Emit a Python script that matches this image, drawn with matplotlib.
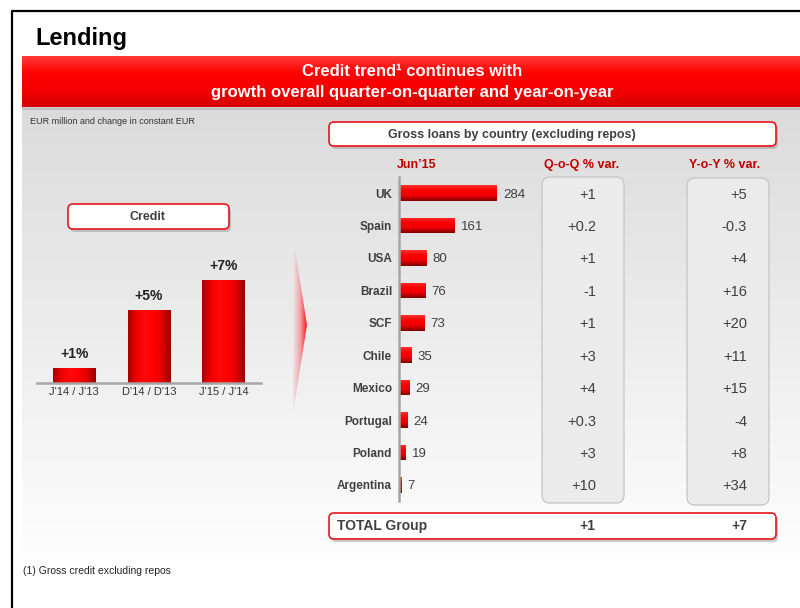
"""Lending slide: credit growth and gross loans by country"""
import numpy as np
import matplotlib.pyplot as plt
import matplotlib.transforms as mtransforms
from matplotlib.patches import FancyBboxPatch, Polygon, Rectangle
from matplotlib.colors import LinearSegmentedColormap

plt.rcParams['font.family'] = ['Liberation Sans', 'DejaVu Sans']

# left chart: credit growth
PERIODS = ["J'14 / J'13", "D'14 / D'13", "J'15 / J'14"]
CREDIT_GROWTH = [1, 5, 7]

# right chart: gross loans by country (Jun'15) and % variations
COUNTRIES = ['UK', 'Spain', 'USA', 'Brazil', 'SCF', 'Chile', 'Mexico', 'Portugal', 'Poland', 'Argentina']
LOANS_JUN15 = [284, 161, 80, 76, 73, 35, 29, 24, 19, 7]
QOQ_VAR = ['+1', '+0.2', '+1', '-1', '+1', '+3', '+4', '+0.3', '+3', '+10']
YOY_VAR = ['+5', '-0.3', '+4', '+16', '+20', '+11', '+15', '-4', '+8', '+34']
TOTAL_QOQ = '+1'
TOTAL_YOY = '+7'

TXT = '#404040'
RED_EDGE = '#E8141B'
W, H = 800, 608

fig = plt.figure(figsize=(8, 6.08), dpi=100)
bg = fig.add_axes([0, 0, 1, 1], zorder=0)
bg.axis('off')


def px_axes(x0, y0, x1, y1):
    # axes placed with pixel coords (top-left origin)
    ax = fig.add_axes([x0 / W, 1 - y1 / H, (x1 - x0) / W, (y1 - y0) / H], zorder=2)
    ax.patch.set_visible(False)
    return ax


def card(x0, y0, x1, y1, face='white', edge=RED_EDGE, rs=5, shadow=True, lw=1.2):
    if shadow:
        bg.add_patch(FancyBboxPatch((x0 + 2, y0 + 3), x1 - x0, y1 - y0,
                                    boxstyle=f'round,pad=0,rounding_size={rs}',
                                    fc='#8c8c8c', ec='none', alpha=0.45, zorder=2))
    bg.add_patch(FancyBboxPatch((x0, y0), x1 - x0, y1 - y0,
                                boxstyle=f'round,pad=0,rounding_size={rs}',
                                fc=face, ec=edge, lw=lw, zorder=3))


def shade_bars(ax, bars, stops, horizontal):
    cmap = LinearSegmentedColormap.from_list('shade', stops)
    grad = np.linspace(0, 1, 64)
    for b in bars:
        x0, y0, w, h = b.get_x(), b.get_y(), b.get_width(), b.get_height()
        if horizontal:
            img, extent = grad.reshape(-1, 1), (x0, x0 + w, y0 + h, y0)
        else:
            img, extent = grad.reshape(1, -1), (x0, x0 + w, y0, y0 + h)
        im = ax.imshow(img, cmap=cmap, extent=extent, aspect='auto', origin='upper',
                       zorder=b.get_zorder() + 0.1)
        im.set_clip_path(b)


# ---- slide background ----
shade = np.linspace(0.86, 0.995, 256).reshape(-1, 1)
bg.imshow(np.dstack([shade] * 3), extent=(22, 800, 560, 108), aspect='auto', origin='upper', zorder=0)
bg.plot([12, 12, 800], [608, 11, 11], color='black', lw=1.6, zorder=5)

# red banner
bg.add_patch(Rectangle((22, 58), 778, 52, fc='#a0a0a0', ec='none', alpha=0.5, zorder=1))
red = LinearSegmentedColormap.from_list('banner', ['#ff3a3a', '#ff0000', '#f50000', '#d40000'])
bg.imshow(np.linspace(0, 1, 64).reshape(-1, 1), cmap=red, extent=(22, 800, 107, 56),
          aspect='auto', origin='upper', zorder=2)
bg.text(412, 72, 'Credit trend\u00b9 continues with', color='white', fontsize=12,
        fontweight='bold', ha='center', va='center', zorder=4)
bg.text(412, 92, 'growth overall quarter-on-quarter and year-on-year', color='white', fontsize=12,
        fontweight='bold', ha='center', va='center', zorder=4)

bg.text(35, 39, 'Lending', fontsize=17, fontweight='bold', color='black', ha='left', va='center')
bg.text(30, 121, 'EUR million and change in constant EUR', fontsize=6.5, color='#333333',
        ha='left', va='center')
bg.text(23, 571, '(1) Gross credit excluding repos', fontsize=7.5, color='#222222',
        ha='left', va='center')

# ---- left: credit growth ----
card(68, 204, 229, 229)
bg.text(148, 217, 'Credit', fontsize=9, fontweight='bold', color=TXT, ha='center', va='center', zorder=4)

ax1 = px_axes(37, 383 - 147, 261, 383)
bars1 = ax1.bar(range(len(PERIODS)), CREDIT_GROWTH, width=0.57, color='#e00000', zorder=2)
shade_bars(ax1, bars1, ['#a80000', '#f20000', '#ff0a0a', '#ff0000', '#e00000', '#9a0000'],
           horizontal=False)
for i, v in enumerate(CREDIT_GROWTH):
    ax1.text(i, v + 0.95, f'+{v}%', ha='center', va='center', fontsize=10,
             fontweight='bold', color='#222222')
ax1.set_xlim(-0.5, 2.5)
ax1.set_ylim(0, 10)
ax1.set_xticks(range(len(PERIODS)))
ax1.set_xticklabels(PERIODS, fontsize=8, color='#333333')
ax1.tick_params(axis='x', length=0, pad=3)
ax1.set_yticks([])
for s in ['top', 'left', 'right']:
    ax1.spines[s].set_visible(False)
ax1.spines['bottom'].set_color('#a6a6a6')
ax1.spines['bottom'].set_linewidth(1.8)

# arrow chevron
chev = Polygon([(293, 237), (307, 325), (293, 413)], closed=True, fc='none', ec='none')
bg.add_patch(chev)
arrow_cmap = LinearSegmentedColormap.from_list('arrow', ['#ece6e8', '#f0a0a8', '#ff0000'])
im = bg.imshow(np.linspace(0, 1, 64).reshape(1, -1), cmap=arrow_cmap, extent=(293, 308, 413, 237),
               aspect='auto', origin='upper', zorder=2)
im.set_clip_path(chev)

# ---- right: gross loans by country ----
card(329, 122, 776, 146)
bg.text(512, 135, 'Gross loans by country (excluding repos)', fontsize=9, fontweight='bold',
        color=TXT, ha='center', va='center', zorder=4)

hdr = '#c00000'
bg.text(417, 165, 'Jun\u201915', fontsize=9, fontweight='bold', color=hdr, ha='center', va='center')
bg.text(582, 165, 'Q-o-Q % var.', fontsize=9, fontweight='bold', color=hdr, ha='center', va='center')
bg.text(725, 165, 'Y-o-Y % var.', fontsize=9, fontweight='bold', color=hdr, ha='center', va='center')

card(542, 177, 624, 503, face='#ebebeb', edge='#c8c8c8', rs=8, shadow=False, lw=1)
card(687, 178, 769, 505, face='#ebebeb', edge='#c8c8c8', rs=8, shadow=False, lw=1)

scale = 0.345  # px per unit
ax2 = px_axes(399, 176.8, 540, 501.2)
rows = np.arange(len(COUNTRIES))
bars2 = ax2.barh(rows, LOANS_JUN15, height=0.48, color='#e00000', zorder=2)
shade_bars(ax2, bars2, ['#ff3030', '#ff0000', '#ec0000', '#800000'], horizontal=True)
for i, v in enumerate(LOANS_JUN15):
    ax2.text(v + 6 / scale, i, str(v), va='center_baseline', ha='left', fontsize=9.5, color=TXT)
ax2.set_xlim(0, 141 / scale)
ax2.set_ylim(len(COUNTRIES) - 0.5, -0.5)
ax2.set_yticks(rows)
ax2.set_yticklabels(COUNTRIES, fontsize=8.5, fontweight='bold', color=TXT)
ax2.tick_params(axis='y', length=0, pad=5)
ax2.set_xticks([])
for s in ['top', 'bottom', 'right']:
    ax2.spines[s].set_visible(False)
ax2.spines['left'].set_color('#a6a6a6')
ax2.spines['left'].set_linewidth(1.8)

trans = mtransforms.blended_transform_factory(bg.transData, ax2.transData)
for i, (q, y) in enumerate(zip(QOQ_VAR, YOY_VAR)):
    ax2.text(596, i, q, transform=trans, ha='right', va='center_baseline', fontsize=10.5, color=TXT)
    ax2.text(747, i, y, transform=trans, ha='right', va='center_baseline', fontsize=10.5, color=TXT)

# total row
card(329, 513, 776, 539)
bg.text(337, 526, 'TOTAL Group', fontsize=10, fontweight='bold', color=TXT, ha='left', va='center', zorder=4)
bg.text(595, 526, TOTAL_QOQ, fontsize=10, fontweight='bold', color=TXT, ha='right', va='center', zorder=4)
bg.text(747, 526, TOTAL_YOY, fontsize=10, fontweight='bold', color=TXT, ha='right', va='center', zorder=4)

bg.set_xlim(0, W)
bg.set_ylim(H, 0)

fig.savefig('out.png', dpi=100, facecolor='white')
